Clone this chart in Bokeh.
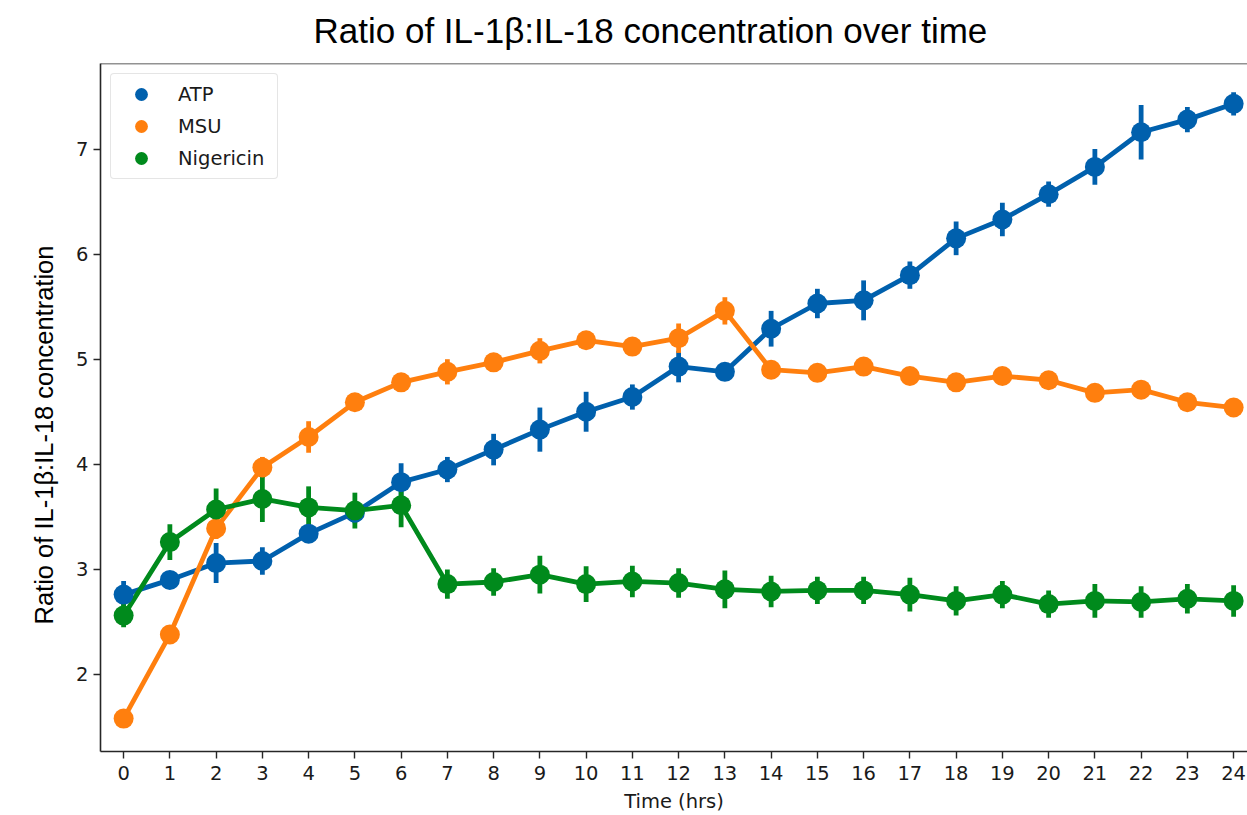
from bokeh.plotting import figure
from bokeh.models import Range1d, FixedTicker, Span, Title, Legend, LegendItem, ColumnDataSource
from bokeh.embed import file_html
from bokeh.resources import INLINE

hours = list(range(25))

atp = [2.76, 2.90, 3.06, 3.08, 3.34, 3.54, 3.83, 3.95, 4.14, 4.33, 4.50, 4.64, 4.93, 4.88,
       5.29, 5.53, 5.56, 5.80, 6.15, 6.33, 6.57, 6.83, 7.16, 7.28, 7.43]
atp_err = [0.13, 0.05, 0.19, 0.13, 0.05, 0.10, 0.18, 0.12, 0.15, 0.21, 0.19, 0.12, 0.15, 0.05,
           0.17, 0.14, 0.19, 0.13, 0.16, 0.16, 0.12, 0.17, 0.26, 0.12, 0.11]

msu = [1.58, 2.38, 3.39, 3.97, 4.26, 4.59, 4.78, 4.88, 4.97, 5.08, 5.18, 5.12, 5.20, 5.46,
       4.90, 4.87, 4.93, 4.84, 4.78, 4.84, 4.80, 4.68, 4.71, 4.59, 4.54]
msu_err = [0.03, 0.04, 0.10, 0.10, 0.15, 0.06, 0.06, 0.12, 0.06, 0.12, 0.08, 0.07, 0.14, 0.13,
           0.05, 0.05, 0.05, 0.05, 0.05, 0.05, 0.05, 0.05, 0.05, 0.05, 0.08]

nig = [2.56, 3.26, 3.57, 3.67, 3.59, 3.56, 3.61, 2.86, 2.88, 2.95, 2.86, 2.885, 2.87, 2.81,
       2.79, 2.80, 2.80, 2.76, 2.70, 2.76, 2.67, 2.70, 2.69, 2.72, 2.70]
nig_err = [0.11, 0.17, 0.20, 0.22, 0.20, 0.17, 0.21, 0.14, 0.13, 0.18, 0.17, 0.15, 0.14, 0.18,
           0.15, 0.13, 0.13, 0.16, 0.14, 0.13, 0.13, 0.16, 0.15, 0.14, 0.15]

series_names = ["ATP", "MSU", "Nigericin"]
colors = ["#0060AD", "#FF7F0E", "#008A1C"]
values = [atp, msu, nig]
errors = [atp_err, msu_err, nig_err]

TICK_FONT = "DejaVu Sans"
TITLE_FONT = "Liberation Sans"
Y_TOP = 7.814

p = figure(width=1247, height=815, output_backend="svg", toolbar_location=None,
           x_range=Range1d(-0.5, 24.3), y_range=Range1d(1.267, Y_TOP),
           min_border_left=100, min_border_right=0, min_border_top=63, min_border_bottom=63)
p.outline_line_color = None
p.xgrid.visible = False
p.ygrid.visible = False
p.background_fill_color = "white"
p.border_fill_color = "white"

for ax, ticks in ((p.xaxis[0], hours), (p.yaxis[0], [2, 3, 4, 5, 6, 7])):
    ax.ticker = FixedTicker(ticks=ticks)
    ax.minor_tick_line_color = None
    ax.major_tick_in = 0
    ax.major_tick_out = 7
    ax.major_tick_line_width = 1.4
    ax.axis_line_width = 1.6
    ax.axis_line_color = "#262626"
    ax.major_tick_line_color = "#262626"
    ax.major_label_text_font = TICK_FONT
    ax.major_label_text_font_size = "19.5px"
    ax.major_label_text_color = "#1a1a1a"
p.xaxis.major_label_standoff = 7
p.yaxis.major_label_standoff = 5
p.xaxis.axis_label = "Time (hrs)"
p.xaxis.axis_label_text_font = TICK_FONT
p.xaxis.axis_label_text_font_size = "19.5px"
p.xaxis.axis_label_text_font_style = "normal"
p.xaxis.axis_label_standoff = 7
p.xaxis.axis_label_text_color = "#1a1a1a"

# top spine
p.add_layout(Span(location=Y_TOP, dimension="width", line_color="#262626", line_width=1.6))

sources = []
for vals, errs in zip(values, errors):
    sources.append(ColumnDataSource(dict(
        x=hours, y=vals,
        lo=[v - e for v, e in zip(vals, errs)],
        hi=[v + e for v, e in zip(vals, errs)])))

# lines first, then error bars, then points (pointplot draw order)
for src, c in zip(sources, colors):
    p.line("x", "y", source=src, line_color=c, line_width=4.8)
for src, c in zip(sources, colors):
    p.segment(x0="x", y0="lo", x1="x", y1="hi", source=src, line_color=c, line_width=4.8)
pts = []
for src, c in zip(sources, colors):
    pts.append(p.scatter("x", "y", source=src, size=20, fill_color=c, line_color=c, line_width=0))

legend = Legend(items=[LegendItem(label=n, renderers=[r]) for n, r in zip(series_names, pts)],
                location="top_left", margin=10, padding=4, spacing=0,
                glyph_width=52, glyph_height=32, label_standoff=11, label_width=95,
                label_text_font=TICK_FONT, label_text_font_size="19.5px",
                label_text_color="#1a1a1a", label_text_baseline="middle",
                border_line_color="#cccccc", border_line_width=1.2,
                background_fill_alpha=0.8, border_radius=4)
p.add_layout(legend)

p.title = Title(text="Ratio of IL-1β:IL-18 concentration over time", align="left", offset=213,
                text_font=TITLE_FONT, text_font_size="35px", text_font_style="normal",
                text_color="#000000", standoff=14)
# thin invisible spacer between the title and the plot frame
p.add_layout(Title(text=" ", text_font_size="1px", standoff=4), "above")
p.add_layout(Title(text="Ratio of IL-1β:IL-18 concentration", align="left", offset=127,
                   text_font=TITLE_FONT, text_font_size="25.5px", text_font_style="normal",
                   text_color="#000000", standoff=32), "left")

open("out.html", "w").write(file_html(p, INLINE))
